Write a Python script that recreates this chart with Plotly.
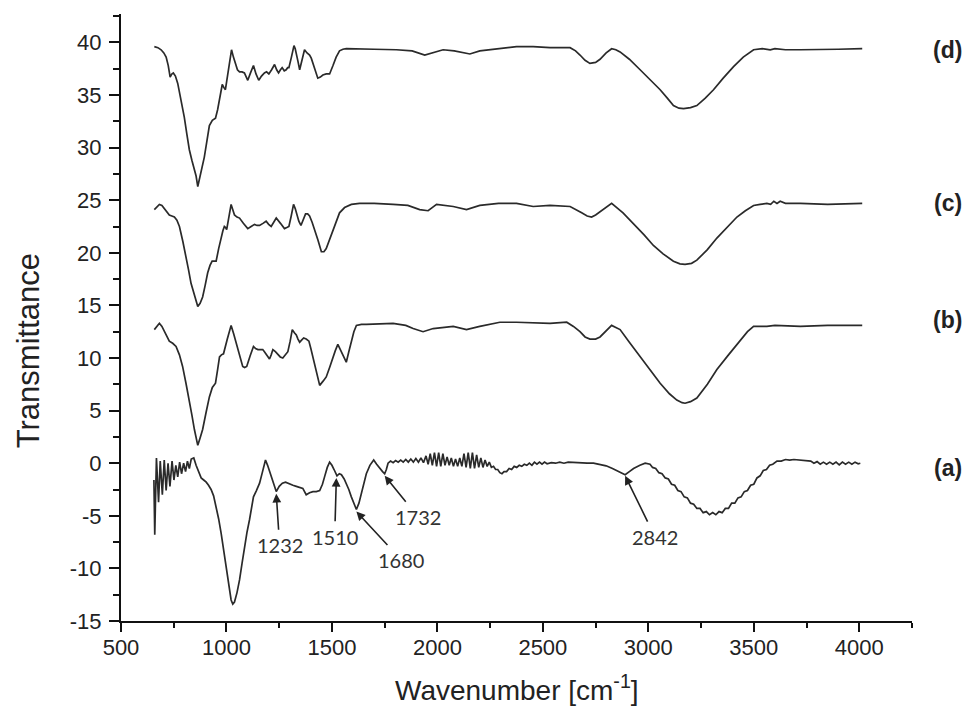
import plotly.graph_objects as go

# FTIR spectra, wavenumber in cm^-1 vs transmittance (offset traces)
wn_a = [656, 660, 668, 678, 686, 696, 705, 714, 723, 732, 742, 751, 760, 769, 778, 787, 797, 806, 815, 824,
        833, 845, 856, 868, 880, 892, 904, 915, 927, 939, 951, 963, 975, 987, 999, 1011, 1022, 1030, 1038, 1050,
        1062, 1074, 1085, 1097, 1109, 1120, 1128, 1142, 1157, 1171, 1185, 1195, 1204, 1220, 1236, 1250, 1265, 1280,
        1299, 1315, 1331, 1346, 1362, 1378, 1394, 1410, 1426, 1442, 1455, 1465, 1478, 1489, 1500, 1510, 1524, 1535,
        1545, 1558, 1568, 1580, 1592, 1604, 1616, 1628, 1640, 1652, 1663, 1680, 1698, 1712, 1726, 1740, 1750, 1758,
        1766, 1778, 1790, 1802, 1814, 1826, 1838, 1850, 1862, 1874, 1886, 1898, 1910, 1922, 1934, 1946, 1956, 1966,
        1976, 1986, 1996, 2006, 2016, 2026, 2036, 2046, 2056, 2066, 2076, 2086, 2096, 2106, 2116, 2126, 2136, 2146,
        2156, 2166, 2176, 2186, 2196, 2206, 2216, 2226, 2236, 2246, 2256, 2266, 2276, 2286, 2296, 2306, 2316, 2328,
        2340, 2352, 2364, 2376, 2388, 2400, 2412, 2424, 2436, 2448, 2460, 2472, 2484, 2496, 2508, 2520, 2540, 2560,
        2580, 2600, 2620, 2650, 2680, 2710, 2740, 2770, 2800, 2830, 2860, 2890, 2910, 2930, 2960, 2985, 3008, 3020,
        3035, 3050, 3065, 3080, 3095, 3110, 3125, 3140, 3155, 3170, 3185, 3200, 3215, 3230, 3245, 3260, 3275, 3290,
        3305, 3320, 3335, 3350, 3365, 3380, 3395, 3410, 3425, 3440, 3455, 3470, 3485, 3500, 3515, 3530, 3545, 3560,
        3575, 3590, 3610, 3630, 3650, 3670, 3690, 3710, 3730, 3750, 3770, 3785, 3800, 3815, 3830, 3845, 3860, 3875,
        3890, 3905, 3920, 3935, 3950, 3965, 3980, 3995, 4005]
tr_a = [-1.6, -6.8, 0.5, -3.7, 0.2, -3.0, 0.3, -2.6, 0.0, -2.2, 0.2, -1.6, -0.2, -1.3, 0.1, -1.0, 0.0, -0.8, 0.2, -0.5,
        0.4, 0.5, -0.2, -0.9, -1.4, -1.6, -1.8, -2.1, -2.5, -3.1, -4.1, -5.3, -6.7, -8.2, -9.8, -11.5, -13.0, -13.4, -13.2, -12.3,
        -11.1, -9.5, -7.9, -6.6, -5.4, -4.0, -3.2, -2.6, -1.9, -0.8, 0.3, -0.2, -0.8, -1.8, -2.7, -2.2, -1.9, -1.8,
        -2.0, -2.1, -2.2, -2.3, -2.4, -3.0, -2.8, -2.7, -2.7, -2.6, -2.0, -1.3, -0.4, 0.1, -0.2, -0.6, -1.2, -1.0,
        -1.1, -1.5, -1.9, -2.5, -3.2, -3.8, -4.4, -3.8, -2.9, -1.9, -1.0, -0.2, 0.3, -0.1, -0.5, -0.8, -1.0, -0.6,
        0.0, 0.2, 0.05, 0.25, 0.1, 0.3, 0.1, 0.35, 0.1, 0.4, 0.1, 0.45, 0.1, 0.5, 0.05, 0.7, -0.1, 0.9,
        -0.2, 1.0, -0.3, 1.0, -0.3, 0.9, -0.2, 0.6, -0.2, 0.5, -0.3, 0.4, -0.3, 0.5, -0.3, 0.9, -0.4, 1.0,
        -0.5, 1.0, -0.5, 0.8, -0.4, 0.5, -0.4, 0.3, -0.3, 0.1, -0.4, -0.3, -0.6, -0.6, -0.9, -1.0, -0.8, -0.8,
        -0.5, -0.6, -0.3, -0.4, -0.2, -0.3, -0.1, -0.2, 0.0, -0.2, 0.1, -0.1, 0.1, -0.1, 0.1, -0.05, 0.05, 0.0,
        0.1, 0.0, 0.1, 0.05, 0.05, 0.0, 0.0, -0.1, -0.25, -0.5, -0.8, -1.1, -0.8, -0.5, -0.2, 0.0, -0.1, -0.4,
        -0.5, -0.9, -1.0, -1.4, -1.5, -2.0, -2.1, -2.6, -2.7, -3.2, -3.3, -3.8, -3.9, -4.3, -4.3, -4.7, -4.6, -4.9,
        -4.7, -4.9, -4.6, -4.7, -4.3, -4.3, -3.8, -3.8, -3.3, -3.2, -2.7, -2.6, -2.1, -2.0, -1.4, -1.2, -0.7, -0.6,
        -0.2, -0.1, 0.2, 0.2, 0.35, 0.3, 0.35, 0.3, 0.3, 0.25, 0.2, 0.0, 0.15, -0.1, 0.1, -0.1, 0.1, -0.1,
        0.1, -0.15, 0.1, -0.1, 0.1, -0.1, 0.1, -0.05, 0.0]

wn_b = [658, 670, 682, 694, 706, 718, 729, 745, 761, 777, 792, 808, 824, 836, 848, 856, 864, 875, 887, 903,
        919, 933, 948, 958, 967, 976, 986, 1004, 1022, 1034, 1046, 1062, 1077, 1086, 1096, 1112, 1128, 1138, 1149, 1160,
        1172, 1180, 1188, 1196, 1204, 1212, 1220, 1232, 1244, 1255, 1267, 1279, 1291, 1302, 1312, 1322, 1331, 1339, 1347,
        1356, 1366, 1378, 1391, 1400, 1410, 1426, 1442, 1458, 1473, 1489, 1505, 1516, 1528, 1548, 1568, 1580, 1592, 1604,
        1616, 1640, 1663, 1790, 1850, 1885, 1932, 1980, 2075, 2138, 2201, 2296, 2375, 2534, 2613, 2645, 2676, 2700,
        2723, 2750, 2771, 2800, 2826, 2846, 2866, 2910, 2961, 3010, 3056, 3100, 3135, 3160, 3174, 3200, 3230, 3280,
        3325, 3380, 3436, 3470, 3499, 3530, 3562, 3600, 3721, 3850, 4014]
tr_b = [12.7, 13.0, 13.3, 13.0, 12.5, 12.0, 11.6, 11.4, 11.1, 10.3, 9.2, 7.6, 6.0, 4.6, 3.2, 2.4, 1.7, 2.4, 3.2, 4.8,
        6.3, 7.2, 7.6, 8.9, 10.1, 10.3, 10.4, 11.8, 13.1, 12.3, 11.4, 10.3, 9.2, 9.1, 9.2, 10.2, 11.1, 10.9, 10.8, 10.8,
        10.8, 10.6, 10.4, 10.1, 9.9, 10.3, 10.8, 10.6, 10.3, 10.1, 10.0, 10.3, 10.6, 11.6, 12.7, 12.4, 12.2, 11.8, 11.5,
        11.7, 11.9, 11.8, 11.6, 10.9, 10.1, 8.7, 7.4, 7.8, 8.2, 9.1, 10.1, 10.7, 11.3, 10.5, 9.6, 10.6, 11.7, 12.5,
        13.1, 13.2, 13.2, 13.3, 13.1, 12.8, 12.5, 12.8, 13.0, 12.7, 13.0, 13.4, 13.4, 13.3, 13.4, 13.0, 12.5, 12.0,
        11.8, 11.8, 12.0, 12.6, 13.1, 12.9, 12.7, 11.5, 10.1, 8.8, 7.6, 6.6, 6.0, 5.75, 5.7, 5.85, 6.2, 7.5,
        8.9, 10.3, 11.7, 12.5, 13.0, 13.0, 13.0, 13.1, 13.0, 13.1, 13.1]

wn_c = [658, 670, 682, 694, 706, 718, 729, 741, 753, 765, 777, 793, 809, 820, 832, 848, 864, 875, 887, 899,
        911, 922, 932, 941, 951, 963, 975, 983, 990, 996, 1001, 1012, 1022, 1030, 1038, 1050, 1062, 1080, 1101, 1117,
        1133, 1145, 1157, 1173, 1188, 1200, 1212, 1224, 1236, 1256, 1275, 1286, 1296, 1307, 1318, 1326, 1334, 1343, 1353,
        1364, 1375, 1385, 1394, 1406, 1418, 1434, 1450, 1462, 1473, 1489, 1505, 1520, 1536, 1560, 1592, 1631, 1700, 1790,
        1860, 1916, 1956, 1996, 2075, 2138, 2201, 2290, 2375, 2454, 2534, 2629, 2660, 2684, 2710, 2731, 2750, 2771,
        2800, 2826, 2880, 2929, 2980, 3024, 3070, 3119, 3150, 3174, 3205, 3230, 3280, 3325, 3375, 3420, 3460, 3499,
        3530, 3562, 3580, 3595, 3610, 3625, 3650, 3721, 3850, 4014]
tr_c = [24.1, 24.4, 24.6, 24.5, 24.2, 23.9, 23.6, 23.5, 23.4, 23.1, 22.5, 21.1, 19.6, 18.4, 17.1, 15.9, 14.9, 15.2, 15.8, 16.9,
        18.1, 18.8, 19.2, 19.2, 19.2, 20.4, 21.5, 22.1, 22.5, 22.4, 22.2, 23.4, 24.6, 24.1, 23.6, 23.4, 23.3, 22.8, 22.3, 22.5,
        22.7, 22.6, 22.6, 22.8, 23.0, 22.7, 22.5, 22.9, 23.3, 22.8, 22.3, 22.4, 22.5, 23.5, 24.6, 24.2, 23.6, 23.0, 22.6,
        23.2, 23.7, 23.7, 23.5, 22.9, 22.2, 21.2, 20.1, 20.1, 20.4, 21.3, 22.2, 23.1, 23.8, 24.3, 24.6, 24.7, 24.7, 24.6,
        24.5, 24.1, 24.0, 24.6, 24.4, 24.1, 24.5, 24.7, 24.7, 24.4, 24.5, 24.4, 24.1, 23.8, 23.5, 23.4, 23.6, 23.9,
        24.3, 24.7, 23.8, 22.8, 21.7, 20.7, 19.9, 19.2, 18.95, 18.9, 19.0, 19.3, 20.3, 21.4, 22.4, 23.4, 24.0, 24.5,
        24.6, 24.7, 24.6, 24.9, 24.7, 24.9, 24.7, 24.7, 24.6, 24.7]

wn_d = [658, 675, 690, 703, 714, 724, 733, 741, 748, 758, 769, 785, 800, 812, 824, 836, 848, 856, 864, 872,
        880, 895, 907, 919, 933, 948, 958, 967, 975, 980, 988, 995, 1001, 1008, 1016, 1024, 1033, 1043, 1052, 1062,
        1074, 1085, 1094, 1101, 1114, 1128, 1140, 1153, 1166, 1180, 1190, 1201, 1214, 1228, 1238, 1247, 1256, 1264, 1274,
        1283, 1290, 1296, 1308, 1320, 1326, 1331, 1339, 1347, 1358, 1370, 1382, 1394, 1402, 1410, 1422, 1433, 1445, 1457,
        1473, 1489, 1505, 1520, 1536, 1552, 1568, 1600, 1631, 1700, 1806, 1880, 1940, 1979, 2027, 2080, 2154, 2201,
        2290, 2375, 2454, 2534, 2629, 2655, 2676, 2700, 2723, 2750, 2771, 2800, 2826, 2846, 2866, 2910, 2961, 3010,
        3056, 3090, 3119, 3145, 3167, 3200, 3230, 3270, 3309, 3355, 3404, 3450, 3499, 3540, 3578, 3600, 3650, 3721,
        3800, 3900, 4014]
tr_d = [39.6, 39.5, 39.3, 39.0, 38.6, 37.8, 36.7, 37.0, 37.1, 36.8, 36.1, 34.6, 32.9, 31.3, 29.8, 28.8, 27.9, 27.3, 26.3, 27.0,
        27.9, 29.1, 30.6, 32.1, 32.6, 32.8, 33.6, 34.5, 35.5, 36.0, 35.7, 35.5, 36.3, 37.1, 38.3, 39.3, 38.6, 38.0, 37.4, 37.2,
        37.2, 37.1, 36.7, 36.4, 37.1, 37.8, 37.0, 36.4, 36.8, 37.1, 37.2, 37.0, 37.4, 37.9, 37.4, 37.1, 37.4, 37.6, 37.3,
        37.4, 37.6, 37.6, 38.6, 39.7, 39.4, 39.0, 38.2, 37.4, 38.4, 39.3, 39.0, 38.8, 38.5, 38.0, 37.3, 36.6, 36.7, 36.9,
        37.0, 37.0, 37.8, 38.6, 39.2, 39.35, 39.4, 39.4, 39.4, 39.35, 39.3, 39.2, 38.8, 39.0, 39.3, 39.2, 38.9, 39.2,
        39.4, 39.6, 39.6, 39.5, 39.5, 39.2, 38.8, 38.3, 38.0, 38.1, 38.4, 39.0, 39.4, 39.3, 39.1, 38.4, 37.4, 36.4,
        35.5, 34.7, 34.0, 33.75, 33.7, 33.8, 34.0, 34.7, 35.5, 36.6, 37.7, 38.6, 39.3, 39.4, 39.3, 39.4, 39.3, 39.3,
        39.35, 39.35, 39.4]

series = [("(a)", wn_a, tr_a), ("(b)", wn_b, tr_b), ("(c)", wn_c, tr_c), ("(d)", wn_d, tr_d)]
trace_labels = ["(a)", "(b)", "(c)", "(d)"]
trace_label_y = [-0.5, 13.6, 24.7, 39.3]

# peak assignments on spectrum (a): label, arrow tip, label centre
peak_labels = ["1232", "1510", "1680", "1732", "2842"]
peak_tip = [(1236, -2.9), (1521, -1.4), (1616, -4.6), (1750, -1.2), (2890, -1.2)]
peak_text = [(1252, -7.8), (1513, -7.0), (1829, -9.2), (1908, -5.1), (3032, -7.0)]

# tick labels with a plain hyphen for negatives
x_ticks = [500, 1000, 1500, 2000, 2500, 3000, 3500, 4000]
y_ticks = [-15, -10, -5, 0, 5, 10, 15, 20, 25, 30, 35, 40]

line_color = "#2a2a2a"
fig = go.Figure()
for name, x, y in series:
    fig.add_trace(go.Scatter(x=x, y=y, mode="lines", name=name,
                             line=dict(color=line_color, width=1.7), showlegend=False))

annotations = []
for lab, ly in zip(trace_labels, trace_label_y):
    annotations.append(dict(x=1.045, xref="paper", y=ly, yref="y", text="<b>%s</b>" % lab,
                            showarrow=False, xanchor="center", yanchor="middle",
                            font=dict(family="Liberation Sans, Arial", size=23, color="#222")))
for lab, (tx, ty), (lx, ly) in zip(peak_labels, peak_tip, peak_text):
    annotations.append(dict(x=tx, y=ty, xref="x", yref="y", ax=lx, ay=ly, axref="x", ayref="y",
                            text=lab, showarrow=True, arrowhead=2, arrowsize=1.1, arrowwidth=1.6,
                            arrowcolor="#222", standoff=0, startstandoff=2,
                            font=dict(family="Lato, Noto Sans", size=20, color="#333")))
annotations.append(dict(x=-0.1176, xref="paper", y=0.446, yref="paper", text="Transmittance",
                        textangle=-90, showarrow=False, xanchor="center", yanchor="middle",
                        font=dict(family="Liberation Sans, Arial", size=31, color="#222")))
annotations.append(dict(x=0.5, xref="paper", y=-0.110, yref="paper", text="Wavenumber [cm<sup>-1</sup>]",
                        showarrow=False, xanchor="center", yanchor="middle",
                        font=dict(family="Liberation Sans, Arial", size=28, color="#222")))

axis_font = dict(family="Liberation Sans, Arial", size=22, color="#222")
fig.update_layout(
    width=970, height=711,
    margin=dict(l=121, r=58, t=14, b=90),
    paper_bgcolor="white", plot_bgcolor="white",
    annotations=annotations,
)
fig.update_xaxes(range=[500, 4250], tickmode="array", tickvals=x_ticks,
                 ticktext=[str(v) for v in x_ticks], showgrid=False, zeroline=False,
                 showline=True, linecolor="#111", linewidth=2, ticks="outside", ticklen=9,
                 tickwidth=2, tickcolor="#111", tickfont=axis_font, ticklabelstandoff=-3,
                 minor=dict(dtick=250, tick0=500, ticks="outside", ticklen=5, tickwidth=2, tickcolor="#111"))
fig.update_yaxes(range=[-15, 42.7], tickmode="array", tickvals=y_ticks,
                 ticktext=[str(v) for v in y_ticks], showgrid=False, zeroline=False,
                 showline=True, linecolor="#111", linewidth=2, ticks="outside", ticklen=10,
                 tickwidth=2, tickcolor="#111", tickfont=axis_font, ticklabelstandoff=3,
                 minor=dict(dtick=2.5, tick0=-15, ticks="outside", ticklen=6, tickwidth=2, tickcolor="#111"))

fig.write_html("out.html")
